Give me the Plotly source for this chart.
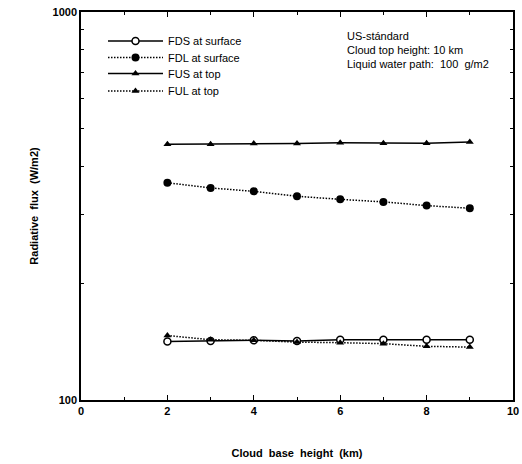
import plotly.graph_objects as go

cloud_base = [2, 3, 4, 5, 6, 7, 8, 9]
fds_surface = [141.5, 142, 142.5, 142, 143, 143, 143, 143]
fdl_surface = [363, 352, 345, 335, 329, 324, 317, 312]
fus_top = [456, 456, 458, 458, 460, 459, 459, 462]
ful_top = [146.6, 143, 142.5, 141, 140.5, 139.7, 137.5, 136.9]

x_major_ticks = [0, 2, 4, 6, 8, 10]
x_tick_labels = ["0", "2", "4", "6", "8", "10"]
x_minor_ticks = [1, 3, 5, 7, 9]
y_ticks = [100, 1000]
y_tick_labels = ["100", "1000"]
y_minor_ticks = [200, 300, 400, 500, 600, 700, 800, 900]

annotation_lines = ["US-stándard", "Cloud top height: 10 km", "Liquid water path:  100  g/m2"]

FONT = "Liberation Sans, Arial, Helvetica, sans-serif"
DOT = "1.5px,1.5px"

W, H = 522, 464
L, R, T, B = 81, 9, 12, 64
pw, ph = W - L - R, H - T - B


def px_x(x):
    return (x - L) / pw


def px_y(y):
    return 1 - (y - T) / ph


series = [
    ("FDS at surface", fds_surface, dict(color="black", width=1.5),
     dict(symbol="circle", size=7, color="white", line=dict(color="black", width=1.5))),
    ("FDL at surface", fdl_surface, dict(color="black", width=1.5, dash=DOT),
     dict(symbol="circle", size=8, color="black")),
    ("FUS at top", fus_top, dict(color="black", width=1.5),
     dict(symbol="triangle-up", size=7, color="black")),
    ("FUL at top", ful_top, dict(color="black", width=1.5, dash=DOT),
     dict(symbol="triangle-up", size=7, color="black")),
]
legend_rows = [41, 57.5, 73.5, 91]
legend_names = ["legend", "legend2", "legend3", "legend4"]

fig = go.Figure()
legend_layout = {}
for (name, vals, line, marker), row, lg in zip(series, legend_rows, legend_names):
    fig.add_trace(go.Scatter(x=cloud_base, y=vals, name=name, mode="lines+markers",
                             line=line, marker=marker, legend=lg, showlegend=True))
    legend_layout[lg] = dict(x=px_x(103), y=px_y(row), xanchor="left", yanchor="middle",
                             bgcolor="rgba(0,0,0,0)", font=dict(family=FONT, size=11),
                             itemwidth=55, visible=True)

for i, t in enumerate(annotation_lines):
    fig.add_annotation(x=px_x(345), xref="paper", y=px_y(36 + 14 * i), yref="paper",
                       showarrow=False, text=t, xanchor="left", yanchor="middle",
                       font=dict(family=FONT, size=11, color="black"))

fig.update_layout(
    width=W, height=H,
    margin=dict(l=L, r=R, t=T, b=B, autoexpand=False),
    paper_bgcolor="white", plot_bgcolor="white",
    font=dict(family=FONT, size=11, color="black"),
    showlegend=True,
    **legend_layout,
    xaxis=dict(range=[0, 10], tickmode="array", tickvals=x_major_ticks, ticktext=x_tick_labels,
               ticks="inside", ticklen=5, tickwidth=1, tickcolor="black",
               minor=dict(tickmode="array", tickvals=x_minor_ticks, ticks="inside", ticklen=3,
                          tickwidth=1, tickcolor="black", showgrid=False),
               showline=True, linecolor="black", linewidth=1.5, mirror="ticks",
               showgrid=False, zeroline=False, automargin=False,
               tickfont=dict(family=FONT, size=11, weight="bold"),
               title=dict(text="Cloud  base  height  (km)", font=dict(family=FONT, size=11, weight="bold"), standoff=33)),
    yaxis=dict(type="log", range=[2, 3], tickmode="array", tickvals=y_ticks, ticktext=y_tick_labels,
               ticks="inside", ticklen=4, tickwidth=1, tickcolor="black",
               minor=dict(tickmode="array", tickvals=y_minor_ticks, ticks="inside", ticklen=3,
                          tickwidth=1, tickcolor="black", showgrid=False),
               showline=True, linecolor="black", linewidth=1.5, mirror="ticks",
               showgrid=False, zeroline=False, automargin=False,
               ticklabeloverflow="allow",
               tickfont=dict(family=FONT, size=11, weight="bold"),
               title=dict(text="Radiative  flux  (W/m2)", font=dict(family=FONT, size=11, weight="bold"), standoff=12)),
)

fig.write_html("out.html", post_script="document.body.style.margin='0';document.body.style.padding='0';",
               config={"displayModeBar": False})
